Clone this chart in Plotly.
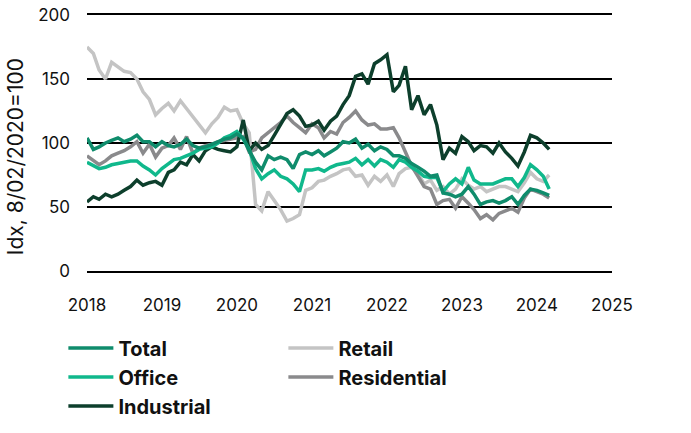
import pandas as pd
import plotly.graph_objects as go

# monthly observations, Jan 2018 .. Mar 2024
dates = pd.date_range("2018-01-01", periods=75, freq="MS")

total = [104, 95, 97, 100, 102, 104, 101, 103, 106, 101, 101, 97,
         101, 98, 97, 99, 103, 98, 96, 97, 99, 101, 103, 104,
         107, 104, 94, 85, 79, 90, 87, 89, 87, 80, 91, 93,
         91, 94, 90, 93, 96, 101, 100, 103, 96, 99, 94, 97,
         95, 90, 90, 88, 84, 81, 78, 74, 75, 61, 60, 58,
         60, 66, 60, 52, 54, 55, 53, 55, 58, 52, 59, 64,
         63, 61, 59]
office = [85, 82, 80, 81, 83, 84, 85, 86, 86, 82, 79, 75,
          80, 84, 87, 88, 90, 92, 95, 96, 97, 100, 104, 106,
          109, 103, 95, 80, 72, 76, 79, 74, 72, 68, 62, 79,
          79, 80, 78, 81, 83, 84, 85, 88, 83, 87, 82, 87,
          85, 81, 87, 85, 81, 78, 74, 73, 73, 62, 68, 72,
          68, 81, 71, 68, 68, 68, 70, 72, 72, 66, 73, 83,
          79, 74, 64]
industrial = [54, 58, 56, 60, 58, 60, 63, 66, 71, 67, 69, 70,
              67, 77, 79, 85, 83, 91, 86, 94, 97, 95, 94, 93,
              97, 118, 94, 100, 95, 98, 106, 114, 123, 126, 121, 113,
              114, 117, 110, 117, 121, 130, 137, 152, 154, 146, 162, 165,
              169, 140, 145, 160, 126, 137, 122, 130, 114, 87, 96, 92,
              105, 101, 94, 98, 97, 92, 100, 93, 88, 82, 93, 106,
              104, 100, 95]
retail = [175, 170, 157, 150, 163, 159, 156, 155, 150, 140, 134, 122,
          127, 131, 125, 133, 127, 120, 115, 108, 115, 120, 128, 125,
          126, 115, 108, 52, 47, 62, 55, 48, 39, 41, 44, 63,
          65, 70, 71, 74, 76, 79, 80, 74, 75, 67, 74, 70,
          75, 66, 76, 80, 81, 76, 68, 71, 63, 66, 60, 64,
          72, 67, 64, 66, 62, 64, 66, 66, 64, 62, 69, 77,
          72, 70, 75]
residential = [90, 86, 83, 86, 90, 92, 94, 97, 101, 92, 99, 89,
               96, 98, 104, 95, 105, 92, 96, 98, 99, 101, 102, 103,
               104, 105, 93, 95, 104, 108, 112, 116, 121, 116, 112, 108,
               115, 112, 104, 109, 107, 116, 120, 125, 118, 114, 115, 111,
               111, 112, 104, 92, 82, 74, 66, 64, 52, 55, 56, 49,
               58, 53, 48, 41, 44, 40, 45, 47, 49, 46, 57, 64,
               62, 60, 57]

year_ticks = ["2018", "2019", "2020", "2021", "2022", "2023", "2024", "2025"]

# draw order (back to front) and legend rank
series = [
    ("Retail", retail, "#c4c4c4", 2),
    ("Residential", residential, "#8a8a8c", 4),
    ("Industrial", industrial, "#0d3f2c", 5),
    ("Office", office, "#10b88c", 3),
    ("Total", total, "#0f8c6c", 1),
]

fig = go.Figure()
for name, vals, col, rank in series:
    fig.add_trace(go.Scatter(x=dates, y=vals, name=name, mode="lines",
                             line=dict(color=col, width=3.5), legendrank=rank))

fnt = "Inter, Roboto, sans-serif"
fig.update_layout(
    width=691, height=433,
    margin=dict(l=87, r=79, t=15, b=162, autoexpand=False),
    paper_bgcolor="white", plot_bgcolor="white",
    font=dict(family=fnt, size=17, color="#111"),
    showlegend=True,
    legend=dict(orientation="h", x=-0.045, xanchor="left", y=-0.225, yanchor="top",
                entrywidth=160, itemwidth=45,
                font=dict(size=20, family=fnt, weight="bold", color="#111"),
                traceorder="normal"),
    annotations=[dict(text="Idx, 8/02/2020=100", textangle=-90, xref="paper", yref="paper",
                      x=-0.137, y=0.445, xanchor="center", yanchor="middle",
                      showarrow=False, font=dict(size=21, family=fnt))],
)
fig.update_xaxes(type="date", range=["2018-01-01", "2025-01-01"],
                 tickvals=[y + "-01-01" for y in year_ticks], ticktext=year_ticks,
                 showgrid=False, zeroline=False, ticks="", automargin=False,
                 showline=True, mirror=True, linecolor="black", linewidth=1.5,
                 ticklabelstandoff=18)
fig.update_yaxes(range=[0, 200], tickvals=[0, 50, 100, 150, 200],
                 showgrid=True, gridcolor="black", gridwidth=1.5, automargin=False,
                 zeroline=False, showline=False, ticks="", ticklabelstandoff=16)

# drop the page's default body margin so the figure sits at the top-left corner
fig.write_html("out.html", config={"displayModeBar": False},
               post_script="document.body.style.margin='0';")
